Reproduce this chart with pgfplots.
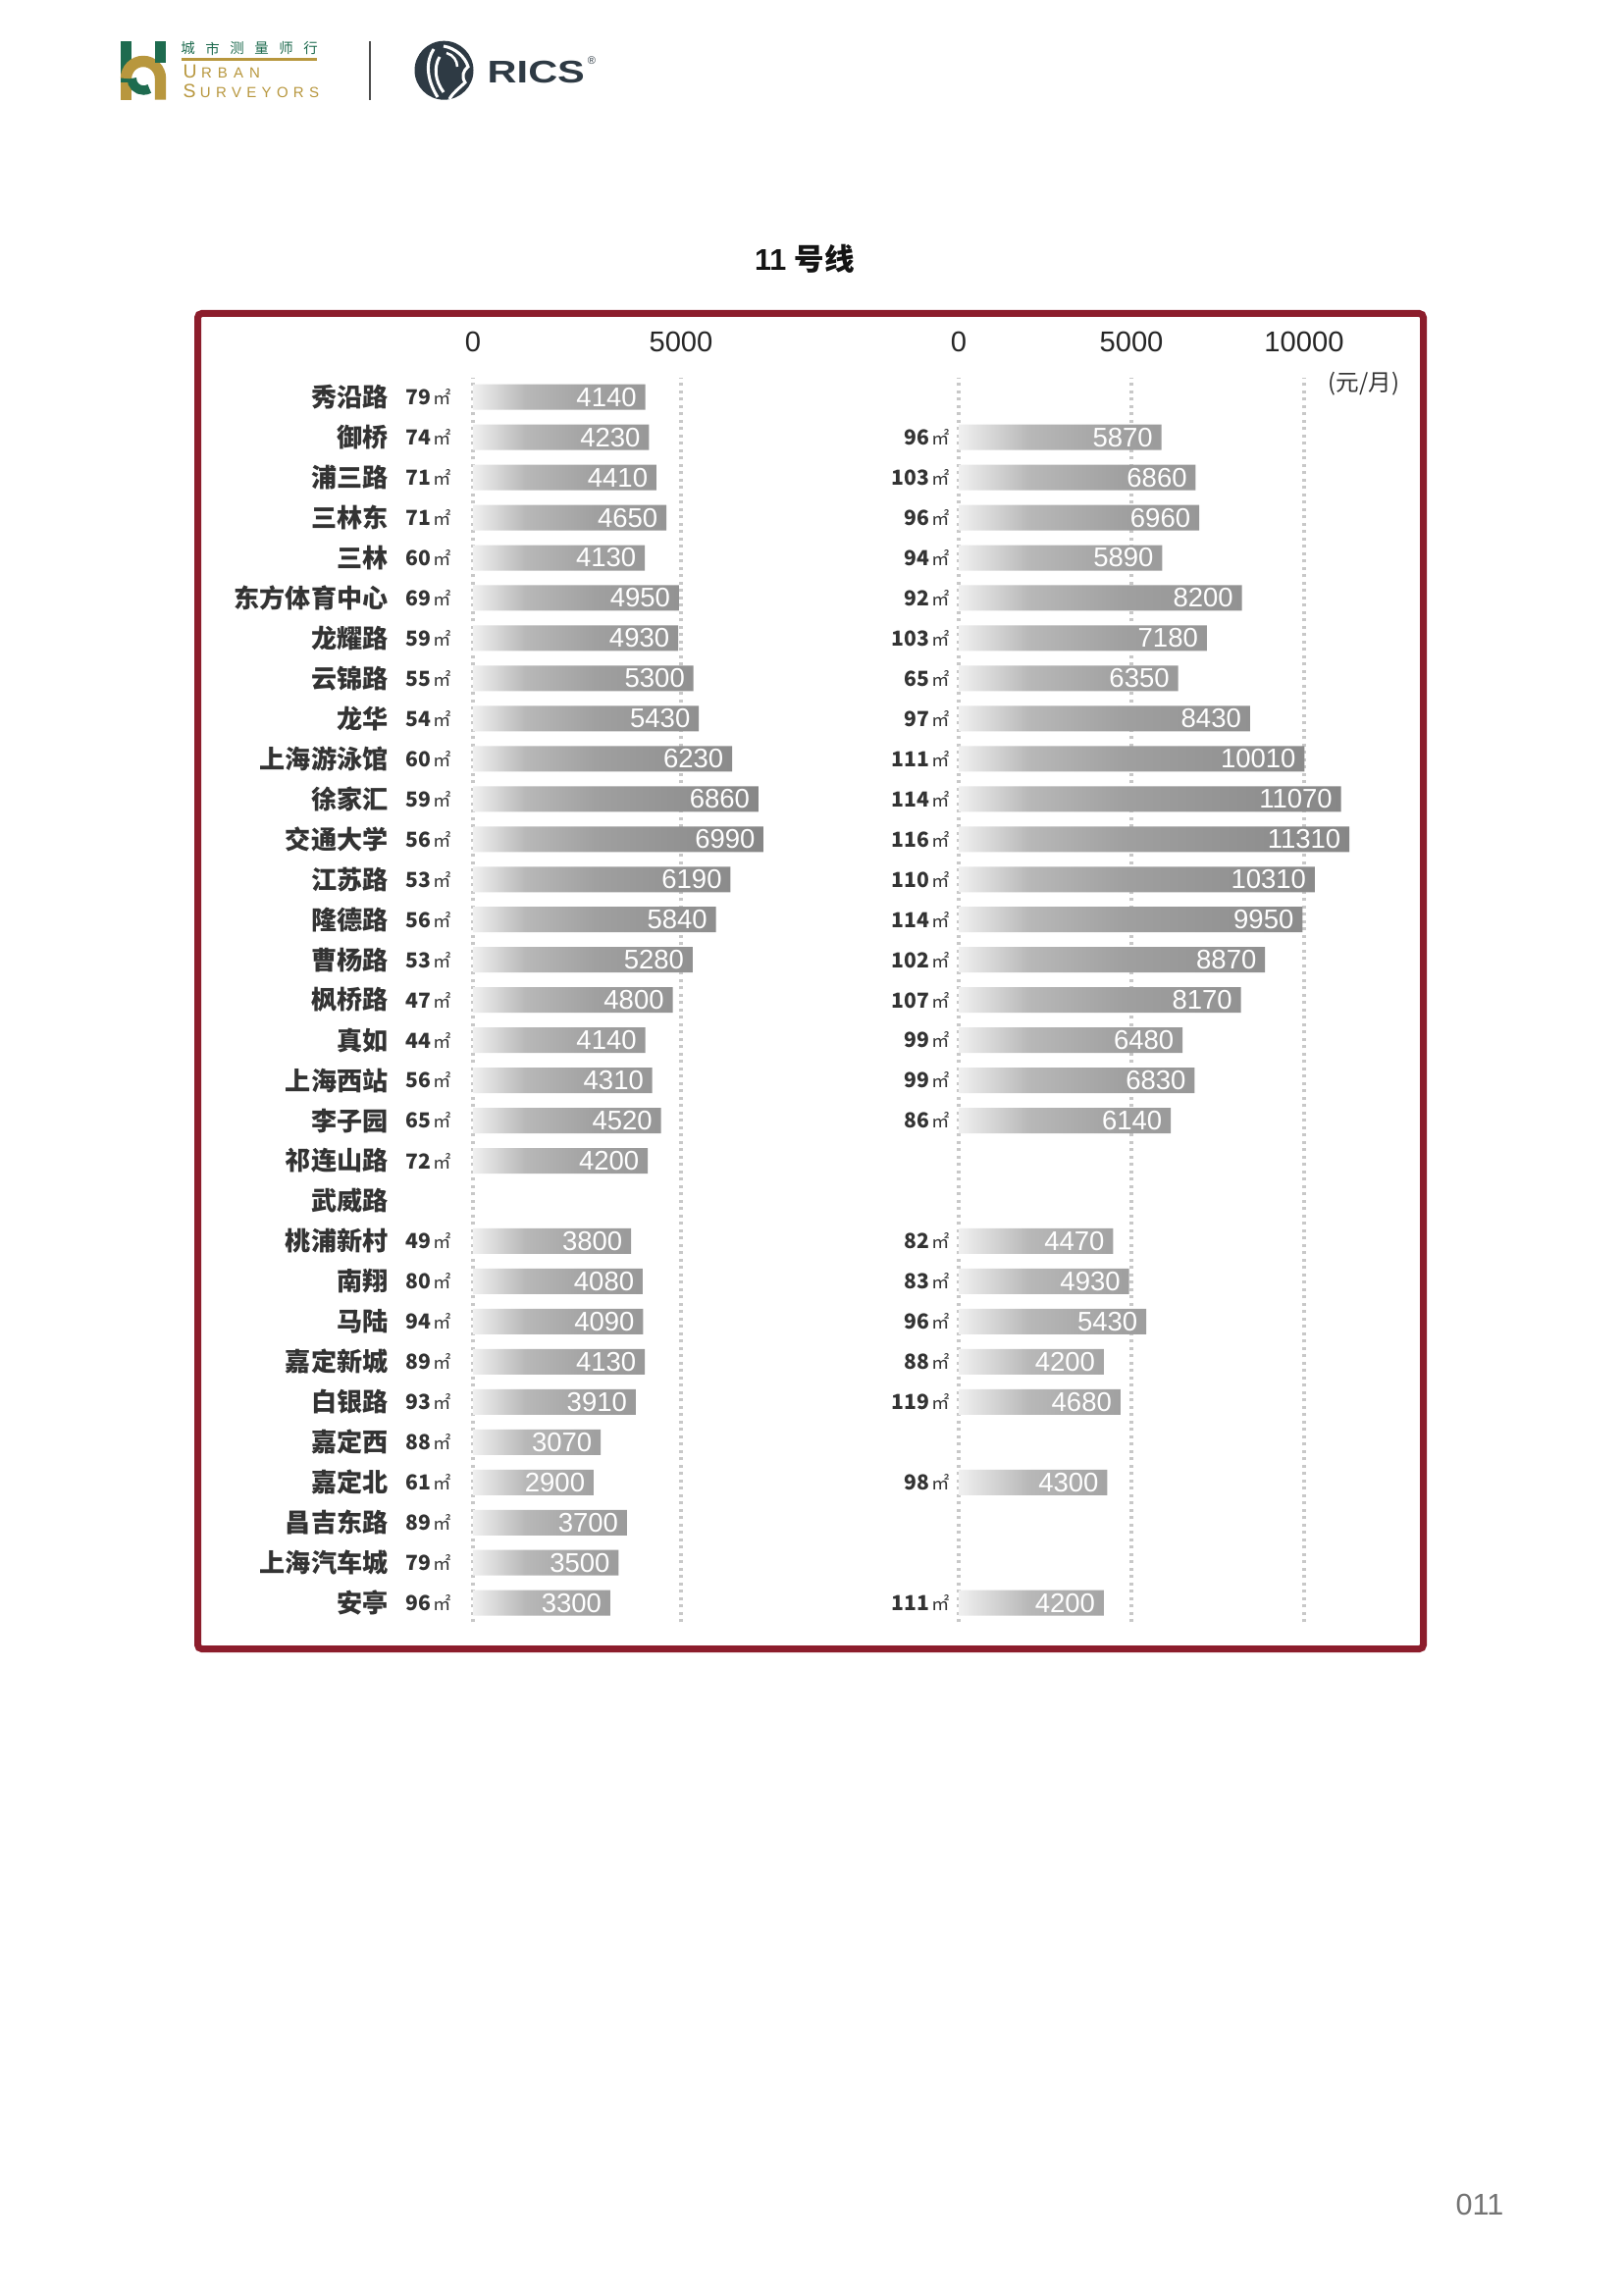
\documentclass[border=0pt]{standalone}
\usepackage{pgfplots}
\pgfplotsset{compat=1.18}
\usepackage{pgfplotstable}
\usepackage{fontspec}
\setmainfont{Liberation Sans}
\newfontfamily\cjk{Noto Sans CJK SC}
\definecolor{frame}{HTML}{8C1D2C}
\definecolor{txt}{HTML}{333333}
\definecolor{gold}{HTML}{B8973E}
\definecolor{ugreen}{HTML}{1E6B4F}
\definecolor{rics}{HTML}{2E3A44}
\definecolor{gridc}{HTML}{C8C8C8}
\definecolor{sa}{HTML}{F0F0F0}
\definecolor{sb}{HTML}{B8B8B8}
\definecolor{sc}{HTML}{A0A0A0}
\definecolor{sd}{HTML}{939393}
\definecolor{se}{HTML}{868686}
\pgfdeclarehorizontalshading{barshade}{100bp}{color(0bp)=(sa); color(25bp)=(sa); color(34bp)=(sb); color(46bp)=(sc); color(60bp)=(sd); color(75bp)=(se); color(100bp)=(se)}

\pgfplotstableread{
r v a
1 4140 79
2 4230 74
3 4410 71
4 4650 71
5 4130 60
6 4950 69
7 4930 59
8 5300 55
9 5430 54
10 6230 60
11 6860 59
12 6990 56
13 6190 53
14 5840 56
15 5280 53
16 4800 47
17 4140 44
18 4310 56
19 4520 65
20 4200 72
22 3800 49
23 4080 80
24 4090 94
25 4130 89
26 3910 93
27 3070 88
28 2900 61
29 3700 89
30 3500 79
31 3300 96
}\leftdata

\pgfplotstableread{
r v a
2 5870 96
3 6860 103
4 6960 96
5 5890 94
6 8200 92
7 7180 103
8 6350 65
9 8430 97
10 10010 111
11 11070 114
12 11310 116
13 10310 110
14 9950 114
15 8870 102
16 8170 107
17 6480 99
18 6830 99
19 6140 86
22 4470 82
23 4930 83
24 5430 96
25 4200 88
26 4680 119
28 4300 98
31 4200 111
}\rightdata

\pgfplotsset{
  railaxis/.style={
    scale only axis, height=456.6pt,
    ymin=0.52, ymax=31.48,
    enlargelimits=false, clip=false,
    scaled x ticks=false,
    axis x line*=top, axis y line*=left,
    axis line style={draw=none}, tick style={draw=none},
    xmajorgrids=true,
    grid style={gridc, line width=1.1pt, dash pattern=on 1.1pt off 1.6pt},
    xticklabel style={anchor=center, yshift=13.3pt, font=\fontsize{10.5}{12}\selectfont, text=black!85},
    /pgf/number format/assume math mode=true,
  },
  valbars/.style={
    xbar, bar width=9.36pt, bar shift=0pt, draw=none, shade, shading=barshade,
    point meta=explicit symbolic, nodes near coords,
    every node near coord/.style={anchor=east, text=white, font=\fontsize{9.9}{10}\selectfont, inner sep=3pt},
  },
  arealabels/.style={
    only marks, mark=*, mark size=0pt, mark options={draw=none, fill=none},
    point meta=explicit symbolic,
    nodes near coords={\bfseries\pgfplotspointmeta\hspace{0.8pt}{\mdseries\fontsize{6.6}{7}\selectfont ㎡}},
    every node near coord/.style={anchor=east, text=txt, font=\cjk\fontsize{7.6}{8}\selectfont, inner sep=0pt, xshift=#1},
  },
}

\begin{document}
\begin{tikzpicture}
\fill[white] (0,0) rectangle (595.44pt,-842.04pt);
\path[use as bounding box] (0,0) rectangle (595.44pt,-842.04pt);

\begin{scope}[x=0.36pt, y=-0.36pt]
  % Urban Surveyors logo
  \fill[ugreen] (122.7,41.7) rectangle (134.3,84);
  \fill[gold] (122.7,84) rectangle (134.3,101.7);
  \draw[gold, line width=4.1pt] (163.5,101.7) -- (163.5,80) arc[start angle=0, end angle=-180, radius=17.5];
  \fill[ugreen] (157.7,41.7) rectangle (169.3,64);
  \draw[ugreen, line width=3.4pt] (134.3,80) arc[start angle=180, end angle=60, radius=12];
  \foreach \c [count=\i from 0] in {城,市,测,量,师,行}
    \node[font=\cjk\fontsize{5.2}{6}\selectfont, text=ugreen, inner sep=0pt] at (191.5+25*\i,49.5) {\c};
  \draw[gold, line width=0.9pt] (185,60.5) -- (323,60.5);
  \node[anchor=base west, inner sep=0pt, text=gold, font=\fontsize{7}{8}\selectfont] at (186,80)
    {U\hspace{1.6pt}{\fontsize{5.4}{6}\selectfont R\hspace{2.2pt}B\hspace{2.2pt}A\hspace{2.2pt}N}};
  \node[anchor=base west, inner sep=0pt, text=gold, font=\fontsize{7}{8}\selectfont] at (186,100)
    {S\hspace{1.6pt}{\fontsize{5.4}{6}\selectfont U\hspace{1.9pt}R\hspace{1.9pt}V\hspace{1.9pt}E\hspace{1.9pt}Y\hspace{1.9pt}O\hspace{1.9pt}R\hspace{1.9pt}S}};
  % separator
  \draw[black!70, line width=0.7pt] (377,42) -- (377,102);
  % RICS logo
  \fill[rics] (452.5,71.7) circle[radius=30];
  \draw[white, line width=1.1pt] (452,47) .. controls (464,49) and (474,58) .. (477,68)
        .. controls (472,72) and (470,78) .. (474,84) .. controls (468,90) and (462,94) .. (458,101);
  \draw[white, line width=1.1pt] (442,50) .. controls (434,62) and (434,80) .. (446,99);
  \draw[white, line width=1.1pt] (448,58) .. controls (442,68) and (443,82) .. (452,94);
  \draw[white, line width=0.9pt] (455,54) .. controls (462,56) and (466,62) .. (466,68);
  \node[anchor=west, inner sep=0pt, text=rics, font=\bfseries\fontsize{11.5}{12}\selectfont, xscale=1.3] at (496,73.5) {RICS};
  \node[inner sep=0pt, text=rics, font=\fontsize{4}{4}\selectfont] at (603,62) {®};
  % title
  \node[font=\fontsize{11}{12}\selectfont, text=black!92] at (820,264) {\bfseries 11\hspace{3pt}{\cjk\bfseries 号线}};
  % frame
  \draw[frame, line width=2.52pt, rounded corners=1.5pt] (201.5,319.5) rectangle (1450.5,1680.5);
  % unit
  \node[font=\cjk\fontsize{8.5}{9}\selectfont, text=txt] at (1390,391) {(元/月)};
  % page number
  \node[font=\fontsize{11}{12}\selectfont, text=black!55] at (1508,2247) {011};
\end{scope}

% left axis
\begin{axis}[railaxis,
  at={(482*0.36pt,-385*0.36pt)}, anchor=north west,
  width=122.11pt, xmin=0, xmax=8000,
  xtick={0,5000}, xticklabels={0,5000},
  ytick={1,...,31},
  yticklabels={安亭,上海汽车城,昌吉东路,嘉定北,嘉定西,白银路,嘉定新城,马陆,南翔,桃浦新村,武威路,祁连山路,李子园,上海西站,真如,枫桥路,曹杨路,隆德路,江苏路,交通大学,徐家汇,上海游泳馆,龙华,云锦路,龙耀路,东方体育中心,三林,三林东,浦三路,御桥,秀沿路},
  yticklabel style={font=\cjk\bfseries\fontsize{9.4}{10}\selectfont, text=txt, anchor=east, inner sep=0pt, xshift=-31pt},
]
\addplot[valbars] table[x=v, y expr=32-\thisrow{r}, meta=v]{\leftdata};
\addplot[arealabels=-7.9pt] table[x expr=0, y expr=32-\thisrow{r}, meta=a]{\leftdata};
\end{axis}

% right axis
\begin{axis}[railaxis,
  at={(977*0.36pt,-385*0.36pt)}, anchor=north west,
  width=152.06pt, xmin=0, xmax=12000,
  xtick={0,5000,10000}, xticklabels={0,5000,10000},
  ytick=\empty,
]
\addplot[valbars] table[x=v, y expr=32-\thisrow{r}, meta=v]{\rightdata};
\addplot[arealabels=-3.2pt] table[x expr=0, y expr=32-\thisrow{r}, meta=a]{\rightdata};
\end{axis}
\end{tikzpicture}
\end{document}
